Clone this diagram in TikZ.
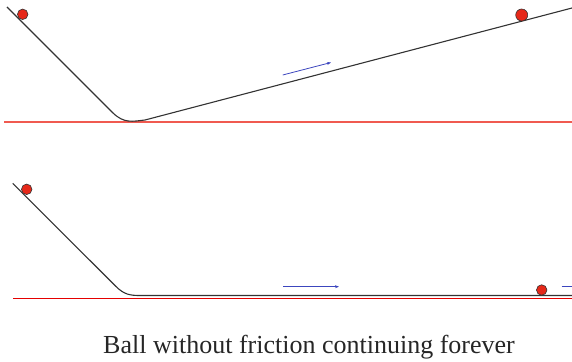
\documentclass[tikz,border=0pt]{standalone}
\usepackage{fontspec}
\setmainfont{Liberation Serif}
\usetikzlibrary{positioning,arrows.meta}
\definecolor{ballred}{RGB}{230,40,25}
\definecolor{groundred}{RGB}{240,90,80}
\definecolor{motionblue}{RGB}{60,70,190}

\begin{document}
\begin{tikzpicture}[
  x=1pt, y=-1pt,
  track/.style={draw=black!80, line width=1.1pt},
  ground/.style={draw=groundred, line width=1.1pt},
  ball/.style={circle, draw=black!80, fill=ballred, line width=0.6pt, inner sep=0pt, minimum size=10.5pt},
  motion/.style={draw=motionblue, line width=0.8pt, -{Stealth[length=4pt,width=3pt]}}
]
  \useasboundingbox (0,0) rectangle (572,361);

  % upper track: up the other slope
  \coordinate (g1l) at (4,122);
  \coordinate (g1r) at (572,122);
  \draw[ground] (g1l) -- (g1r);
  \draw[track] (7,7) -- (113,113) .. controls (124,123.5) and (132,121.5) .. (145,120) -- (572,8);
  \node[ball] (b1) at (22.7,14.3) {};
  \node[ball, minimum size=12pt] (b2) at (521.7,15) {};
  \coordinate (m1s) at (282.7,75);
  \coordinate (m1e) at (331,62.5);
  \draw[motion] (m1s) -- (m1e);

  % lower track: flat, no end
  \coordinate (g2l) at (13,298.3);
  \coordinate (g2r) at (572,298.3);
  \draw[ground, draw=red!90!black] (g2l) -- (g2r);
  \draw[track] (12.7,183.3) -- (116,286.5) .. controls (124,294.5) and (130,295.5) .. (140,295.5) -- (572,295.5);
  \node[ball] (b3) at (26.7,189.3) {};
  \node[ball] (b4) at (541.7,290) {};
  \coordinate (m2s) at (283.3,286.7);
  \coordinate (m2e) at (339,286.7);
  \draw[motion] (m2s) -- (m2e);
  \coordinate (m3s) at (561.7,286.7);
  \coordinate (m3e) at (572,286.7);
  \draw[motion, -] (m3s) -- (m3e);

  \node[font=\fontsize{26}{30}\selectfont, text=black!85, anchor=base] (cap) at (309,353) {Ball without friction continuing forever};
\end{tikzpicture}
\end{document}
